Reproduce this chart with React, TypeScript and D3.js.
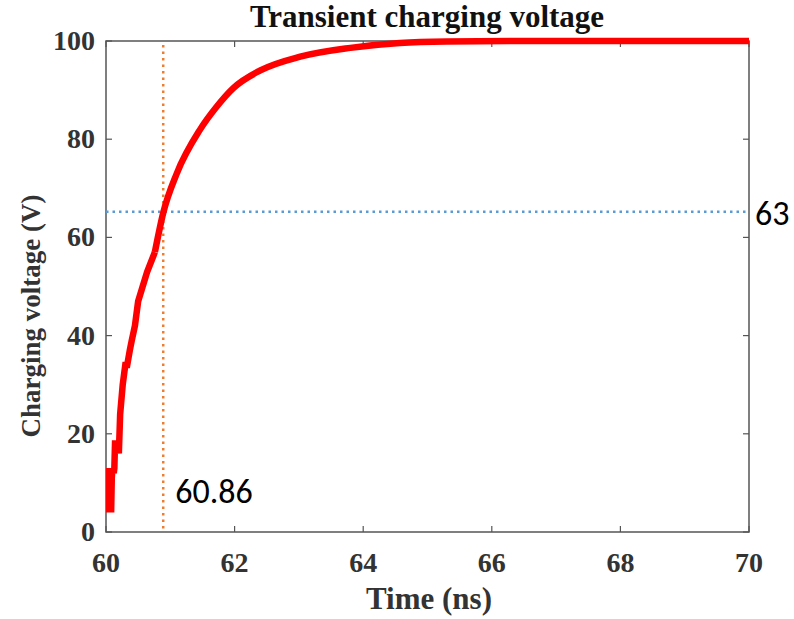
import React from "react";
import * as d3 from "d3";

const timeNs = [60.0, 60.01, 60.02, 60.03, 60.04, 60.05, 60.06, 60.07, 60.08, 60.09, 60.1, 60.12, 60.13, 60.14, 60.19, 60.2, 60.22, 60.26, 60.3, 60.33, 60.37, 60.4, 60.45, 60.5, 60.57, 60.64, 60.7, 60.76, 60.89, 61.1, 61.46, 61.72, 61.98, 62.4, 63.02, 63.8, 64.57, 65.3, 66.5, 68.0, 70.0];
const voltage = [6, 13, 4, 12, 5, 13, 6, 12, 4, 11, 13, 12, 13, 18, 18, 16, 24, 30, 34, 34, 37, 39, 42, 47, 50, 53, 55, 57, 65, 73, 81.9, 86.6, 90.4, 94, 96.8, 98.6, 99.6, 99.9, 100, 100, 100];
const xTicks = [60, 62, 64, 66, 68, 70];
const yTicks = [0, 20, 40, 60, 80, 100];
const markerTime = [60.89];
const markerVoltage = [65.2];
const markerTimeLabel = ["60.86"];
const markerVoltageLabel = ["63"];

export default function App() {
  const W = 794, H = 619;
  const left = 106, right = 749, top = 41, bottom = 532;
  const x = d3.scaleLinear().domain([60, 70]).range([left, right]);
  const y = d3.scaleLinear().domain([0, 100]).range([bottom, top]);
  const split = timeNs.indexOf(60.76);
  const idx = timeNs.map((_, i) => i);
  const noisyLine = d3.line<number>().x((i) => x(timeNs[i])).y((i) => y(voltage[i])).curve(d3.curveLinear);
  const smoothLine = d3.line<number>().x((i) => x(timeNs[i])).y((i) => y(voltage[i])).curve(d3.curveMonotoneX);
  const serif = "'Liberation Serif', 'Times New Roman', serif";
  const sans = "Carlito, 'Liberation Sans', 'Open Sans', sans-serif";
  const axisColor = "#555";
  return (
    <svg width={W} height={H} style={{ position: "absolute", left: 0, top: 0, background: "#fff" }}>
      <defs>
        <clipPath id="plot"><rect x={left} y={top - 4} width={right - left} height={bottom - top + 4} /></clipPath>
      </defs>
      <rect x={left} y={top} width={right - left} height={bottom - top} fill="none" stroke={axisColor} strokeWidth={1.5} />
      {xTicks.map((t) => (
        <g key={"xt" + t}>
          <line x1={x(t)} x2={x(t)} y1={bottom} y2={bottom - 6} stroke={axisColor} strokeWidth={1.2} />
          <line x1={x(t)} x2={x(t)} y1={top} y2={top + 6} stroke={axisColor} strokeWidth={1.2} />
          <text x={x(t)} y={572} textAnchor="middle" fontFamily={serif} fontWeight="bold" fontSize={28} fill="#333">{t}</text>
        </g>
      ))}
      {yTicks.map((v) => (
        <g key={"yt" + v}>
          <line x1={left} x2={left + 6} y1={y(v)} y2={y(v)} stroke={axisColor} strokeWidth={1.2} />
          <line x1={right} x2={right - 6} y1={y(v)} y2={y(v)} stroke={axisColor} strokeWidth={1.2} />
          <text x={95} y={y(v) + 9} textAnchor="end" fontFamily={serif} fontWeight="bold" fontSize={28} fill="#333">{v}</text>
        </g>
      ))}
      {markerVoltage.map((v, i) => (
        <line key={"hv" + i} x1={left} x2={right} y1={y(v)} y2={y(v)} stroke="#5B9BD5" strokeWidth={2.5} strokeDasharray="2.5 4" />
      ))}
      {markerTime.map((t, i) => (
        <line key={"vt" + i} x1={x(t)} x2={x(t)} y1={top + 4} y2={bottom} stroke="#ED7D31" strokeWidth={2.5} strokeDasharray="2.5 4" />
      ))}
      <g clipPath="url(#plot)" fill="none" stroke="#FF0000" strokeWidth={6.5}>
        <path d={noisyLine(idx.slice(0, split + 1)) || ""} strokeLinejoin="miter" />
        <path d={smoothLine(idx.slice(split)) || ""} strokeLinejoin="round" />
      </g>
      {markerTimeLabel.map((s, i) => (
        <text key={"tl" + i} x={x(markerTime[i]) + 12} y={503} fontFamily={sans} fontSize={34} fill="#000">{s}</text>
      ))}
      {markerVoltageLabel.map((s, i) => (
        <text key={"vl" + i} x={755} y={225} fontFamily={sans} fontSize={34} fill="#000">{s}</text>
      ))}
      <text x={427} y={27} textAnchor="middle" fontFamily={serif} fontWeight="bold" fontSize={31} fill="#111">Transient charging voltage</text>
      <text x={429} y={609} textAnchor="middle" fontFamily={serif} fontWeight="bold" fontSize={31} fill="#333">Time (ns)</text>
      <text transform={`translate(40, 316) rotate(-90)`} textAnchor="middle" fontFamily={serif} fontWeight="bold" fontSize={27} fill="#333">Charging voltage (V)</text>
    </svg>
  );
}
